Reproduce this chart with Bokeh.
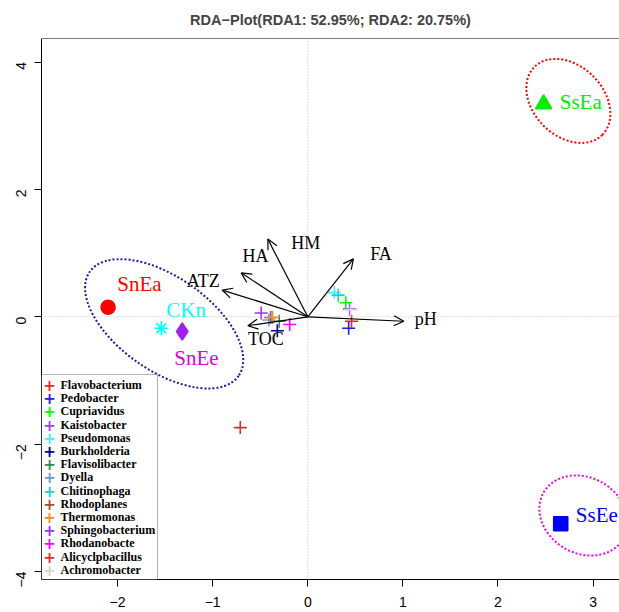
import math
from bokeh.plotting import figure
from bokeh.models import (ColumnDataSource, Arrow, OpenHead, Span, FixedTicker,
                          BoxAnnotation, LabelSet, Range1d)
from bokeh.core.properties import value
from bokeh.embed import file_html
from bokeh.resources import INLINE

title_text = "RDA\u2212Plot(RDA1: 52.95%; RDA2: 20.75%)"

# axis ticks
x_ticks = [-2, -1, 0, 1, 2, 3]
x_tick_labels = ["\u22122", "\u22121", "0", "1", "2", "3"]
y_ticks = [-4, -2, 0, 2, 4]
y_tick_labels = ["\u22124", "\u22122", "0", "2", "4"]

# samples
sample_names = ["SnEa", "CKn", "SnEe", "SsEa", "SsEe"]
sample_x = [-2.10, -1.54, -1.32, 2.48, 2.66]
sample_y = [0.15, -0.18, -0.23, 3.34, -3.25]
sample_label_x = [-1.77, -1.28, -1.17, 2.87, 3.04]
sample_label_y = [0.51, 0.11, -0.65, 3.37, -3.12]

# group ellipses (centre, axes in data units, rotation)
ell_x = [-1.51, 2.74, 2.90]
ell_y = [-0.11, 3.39, -3.12]
ell_w = [1.91, 1.01, 0.97]
ell_h = [1.47, 1.10, 1.19]
ell_angle_deg = [-35, -45, -30]

# environmental factors (arrow tips and label positions)
env_names = ["HM", "HA", "ATZ", "TOC", "FA", "pH"]
env_x = [-0.42, -0.70, -0.90, -0.63, 0.48, 1.01]
env_y = [1.22, 0.69, 0.42, -0.14, 0.91, -0.07]
env_label_x = [-0.02, -0.55, -1.10, -0.44, 0.77, 1.24]
env_label_y = [1.16, 0.95, 0.56, -0.35, 0.98, -0.03]

# species scores
species_names = ["Flavobacterium", "Pedobacter", "Cupriavidus", "Kaistobacter",
                 "Pseudomonas", "Burkholderia", "Flavisolibacter", "Dyella",
                 "Chitinophaga", "Rhodoplanes", "Thermomonas", "Sphingobacterium",
                 "Rhodanobacte", "Alicyclpbacillus", "Achromobacter"]
species_x = [0.46, 0.43, 0.40, 0.44, 0.28, -0.32, -0.30, -0.41, 0.32, -0.39,
             -0.37, -0.49, -0.19, -0.71, 0.45]
species_y = [-0.07, -0.18, 0.22, 0.12, 0.38, -0.22, -0.07, -0.05, 0.34, -0.01,
             -0.01, 0.06, -0.12, -1.74, 0.11]

# styles
sample_markers = ["circle", "asterisk", "diamond", "triangle", "square"]
sample_sizes = [14, 14, 17, 16, 14]
sample_colors = ["#FF0000", "#00FFFF", "#A020F0", "#00EE00", "#0000FF"]
sample_label_colors = ["#FF0000", "#00FFFF", "#DD00DD", "#00EE00", "#0000FF"]
ell_colors = ["#1A1A9A", "#FF0000", "#EE00EE"]
species_colors = ["#FF2020", "#2020E0", "#00FF00", "#A040F0", "#40F0F0",
                  "#00008B", "#2E8B57", "#6A9ACD", "#20D0D0", "#A0522D",
                  "#EE8833", "#9933FF", "#FF00FF", "#CD3333", "#D3D3D3"]

X_MIN, X_MAX = -2.80, 3.278
Y_MIN, Y_MAX = -4.125, 4.37

p = figure(width=619, height=612,
           x_range=Range1d(X_MIN, X_MAX), y_range=Range1d(Y_MIN, Y_MAX),
           output_backend="svg", toolbar_location=None,
           min_border_left=41, min_border_right=0,
           min_border_top=37, min_border_bottom=33,
           title=title_text)

p.title.text_font = "Liberation Sans"
p.title.text_font_size = "14.5px"
p.title.text_font_style = "bold"
p.title.align = "center"
p.title.vertical_align = "middle"
p.title.standoff = 20
p.title.offset = 7

p.xgrid.visible = False
p.ygrid.visible = False
p.outline_line_color = None
p.background_fill_color = "white"
p.border_fill_color = "white"

for ax, ticks, labels in ((p.xaxis[0], x_ticks, x_tick_labels),
                          (p.yaxis[0], y_ticks, y_tick_labels)):
    ax.ticker = FixedTicker(ticks=ticks)
    ax.major_label_overrides = {t: l for t, l in zip(ticks, labels)}
    ax.major_tick_in = 0
    ax.major_tick_out = 7
    ax.minor_tick_line_color = None
    ax.axis_line_color = "black"
    ax.axis_line_width = 1
    ax.major_tick_line_color = "black"
    ax.major_label_text_font = "Liberation Sans"
    ax.major_label_text_font_size = "14px"
    ax.major_label_text_color = "black"
p.xaxis.major_label_standoff = 10
p.yaxis.major_label_standoff = 13
p.yaxis.major_label_orientation = math.pi / 2

# top border of the box
p.add_layout(Span(location=Y_MAX, dimension="width", line_color="black",
                  line_width=1))

# zero reference lines
p.add_layout(Span(location=0, dimension="width", line_color="#BBBBBB",
                  line_dash="1 2", line_width=1))
p.add_layout(Span(location=0, dimension="height", line_color="#BBBBBB",
                  line_dash="1 2", line_width=1))

# ellipses
p.ellipse(x=ell_x, y=ell_y, width=ell_w, height=ell_h,
          angle=[math.radians(a) for a in ell_angle_deg],
          fill_color=None, line_color=ell_colors, line_width=2,
          line_dash="2 2")

# environmental arrows
arr_src = ColumnDataSource(dict(x0=[0.0] * len(env_x), y0=[0.0] * len(env_y),
                                x1=env_x, y1=env_y))
p.add_layout(Arrow(end=OpenHead(size=10, line_width=1.2, line_color="black"),
                   x_start="x0", y_start="y0", x_end="x1", y_end="y1",
                   source=arr_src, line_width=1.2, line_color="black"))
p.text(x=env_label_x, y=env_label_y, text=env_names,
       text_font=value("Liberation Serif"), text_font_size="18px",
       text_align="center", text_baseline="middle", text_color="black")

# species crosses
p.scatter(x=species_x, y=species_y, marker="cross", size=13,
          line_color=species_colors, line_width=1.6)

# samples
s_src = ColumnDataSource(dict(x=sample_x, y=sample_y, m=sample_markers,
                              s=sample_sizes, c=sample_colors))
p.scatter(x="x", y="y", marker="m", size="s", fill_color="c", line_color="c",
          line_width=1.6, source=s_src)
p.text(x=sample_label_x, y=sample_label_y, text=sample_names,
       text_font=value("Liberation Serif"), text_font_size="21px",
       text_align="center", text_baseline="middle",
       text_color=sample_label_colors)

# legend box (anchored to the lower-left corner of the plot frame)
n = len(species_names)
row_h = 13.2
box_w, box_h = 116, 205
p.add_layout(BoxAnnotation(left=0, right=box_w, bottom=0, top=box_h,
                           left_units="screen", right_units="screen",
                           bottom_units="screen", top_units="screen",
                           fill_color="white", fill_alpha=1,
                           line_color="black", line_width=1))
leg_src = ColumnDataSource(dict(
    gx=[8] * n,
    tx=[19] * n,
    y=[box_h - 10.5 - i * row_h for i in range(n)],
    name=species_names,
    sym=["+"] * n,
    color=species_colors,
))
p.add_layout(LabelSet(x="gx", y="y", text="sym", source=leg_src,
                      x_units="screen", y_units="screen",
                      text_color="color", text_font=value("DejaVu Sans"),
                      text_font_style="bold",
                      text_font_size="15px", text_align="center",
                      text_baseline="middle"))
p.add_layout(LabelSet(x="tx", y="y", text="name", source=leg_src,
                      x_units="screen", y_units="screen",
                      text_color="black", text_font=value("Liberation Serif"),
                      text_font_style="bold", text_font_size="12px",
                      text_align="left", text_baseline="middle"))

open("out.html", "w").write(file_html(p, INLINE))
